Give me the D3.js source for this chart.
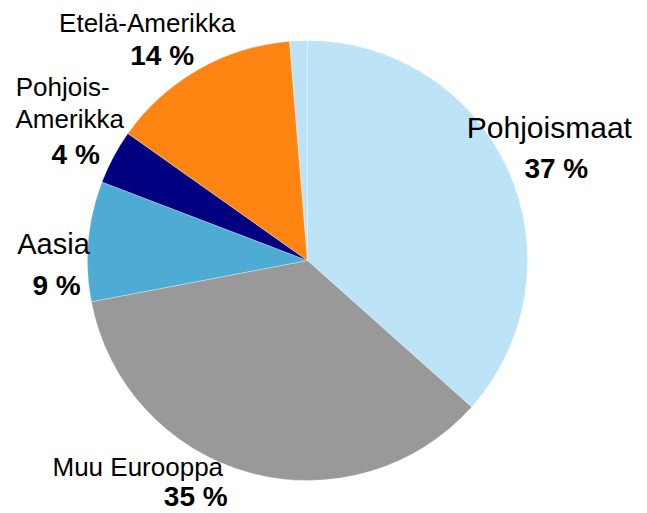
<!DOCTYPE html>
<html>
<head>
<meta charset="utf-8">
<script src="https://cdn.jsdelivr.net/npm/d3@7"></script>
<style>
  body { margin: 0; background: #fff; }
  text { font-family: "Liberation Sans", Arial, sans-serif; fill: #000; }
</style>
</head>
<body>
<div id="chart"></div>
<script>
// data
var categories = ["Pohjoismaat", "Muu Eurooppa", "Aasia", "Pohjois-Amerikka", "Etelä-Amerikka", "Muut"];
var shares = [36.6, 35.4, 8.8, 4.0, 13.9, 1.3];
var shareLabels = ["37 %", "35 %", "9 %", "4 %", "14 %", ""];
var colors = ["#bde3f7", "#999999", "#4eabd4", "#000080", "#ff8513", "#bde3f7"];

var width = 647, height = 513;
var cx = 307.5, cy = 260.5, radius = 220, labelRadius = 265;

// label placement: nudges from the slice's mid angle point (dx, dy of each line)
var labelLayout = [
    { nameSize: 30, pctSize: 28, name: [[0, -14]], pct: [7, 26] },
    { nameSize: 26, pctSize: 28, name: [[-99, -40]], pct: [-41, -10] },
    { nameSize: 29, pctSize: 28, name: [[10, 17]], pct: [13, 58] },
    { nameSize: 26, pctSize: 28, name: [[-11, -40], [-4, -8]], pct: [2, 28] },
    { nameSize: 26, pctSize: 28, name: [[-29, 2]], pct: [-14, 35] },
    null
];

var svg = d3.select("#chart").append("svg")
    .attr("width", width)
    .attr("height", height);

var g = svg.append("g")
    .attr("transform", "translate(" + cx + "," + cy + ")");

var pie = d3.pie().sort(null).value(function (d) { return d; });
var arcs = pie(shares);

var arc = d3.arc().innerRadius(0).outerRadius(radius);

g.selectAll("path")
    .data(arcs)
    .enter().append("path")
    .attr("d", arc)
    .attr("fill", function (d, i) { return colors[i]; })
    .attr("stroke", "#fff")
    .attr("stroke-opacity", 0.5)
    .attr("stroke-width", 0.6);

arcs.forEach(function (d, i) {
    var lay = labelLayout[i];
    if (!lay) return;
    var mid = (d.startAngle + d.endAngle) / 2;
    var mx = labelRadius * Math.sin(mid),
        my = -labelRadius * Math.cos(mid);

    // long names wrap after the hyphen
    var parts = lay.name.length > 1 ? categories[i].replace("-", "-\n").split("\n") : [categories[i]];
    parts.forEach(function (p, j) {
        g.append("text")
            .attr("x", mx + lay.name[j][0])
            .attr("y", my + lay.name[j][1])
            .attr("text-anchor", "middle")
            .style("font-size", lay.nameSize + "px")
            .text(p);
    });

    g.append("text")
        .attr("x", mx + lay.pct[0])
        .attr("y", my + lay.pct[1])
        .attr("text-anchor", "middle")
        .style("font-size", lay.pctSize + "px")
        .style("font-weight", "bold")
        .text(shareLabels[i]);
});
</script>
</body>
</html>
